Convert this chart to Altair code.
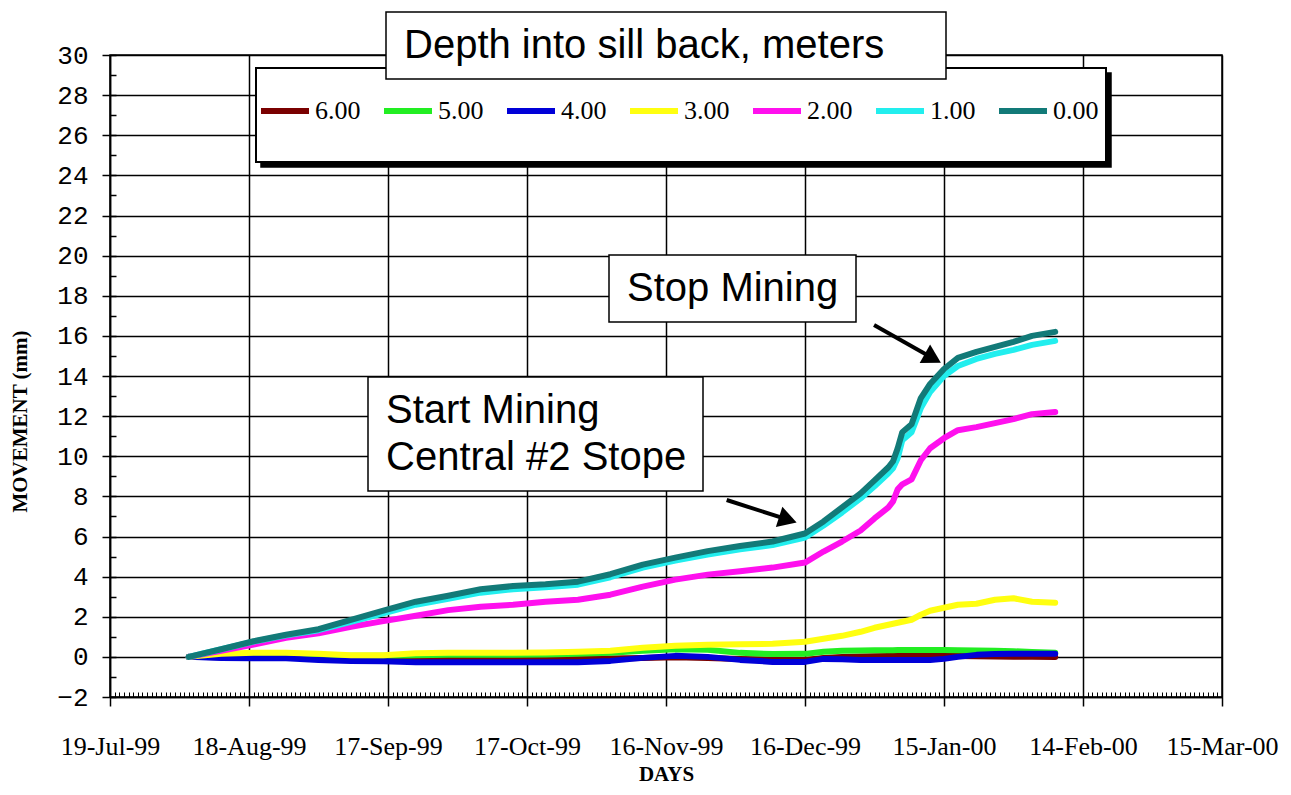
import altair as alt
import pandas as pd

# ---------------- data ----------------
START = "1999-07-19"
DATES = ["1999-08-05", "1999-08-12", "1999-08-19", "1999-08-26", "1999-09-02", "1999-09-09",
         "1999-09-16", "1999-09-23", "1999-09-30", "1999-10-07", "1999-10-14", "1999-10-21",
         "1999-10-28", "1999-11-04", "1999-11-11", "1999-11-18", "1999-11-25", "1999-12-02",
         "1999-12-09", "1999-12-16", "1999-12-20", "1999-12-24", "1999-12-28", "1999-12-31",
         "2000-01-03", "2000-01-04", "2000-01-05", "2000-01-06", "2000-01-08", "2000-01-10",
         "2000-01-12", "2000-01-15", "2000-01-18", "2000-01-22", "2000-01-26", "2000-01-30",
         "2000-02-03", "2000-02-08"]

D600 = [0, -0.02, -0.03, -0.04, -0.05, -0.06, -0.06, -0.05, -0.04, -0.03, -0.02, -0.03, -0.05,
        -0.08, -0.05, -0.02, -0.05, -0.1, -0.15, -0.15, -0.05, 0, 0.02, 0.03, 0.04, 0.04, 0.04,
        0.04, 0.04, 0.04, 0.04, 0.04, 0.04, 0.03, 0.02, 0.01, 0, 0]
D500 = [0, 0, 0.02, 0.02, 0.03, 0.05, 0.05, 0.08, 0.1, 0.1, 0.1, 0.12, 0.15, 0.2, 0.3, 0.38,
        0.35, 0.2, 0.14, 0.15, 0.26, 0.3, 0.32, 0.33, 0.33, 0.33, 0.34, 0.34, 0.34, 0.34, 0.34,
        0.34, 0.33, 0.32, 0.3, 0.28, 0.24, 0.2]
D400 = [0, -0.05, -0.07, -0.07, -0.15, -0.2, -0.22, -0.27, -0.27, -0.27, -0.27, -0.27, -0.27,
        -0.2, -0.05, 0.05, 0.0, -0.15, -0.25, -0.25, -0.1, -0.12, -0.15, -0.15, -0.15, -0.15,
        -0.15, -0.15, -0.15, -0.15, -0.15, -0.1, 0.0, 0.1, 0.14, 0.16, 0.16, 0.16]
D300 = [0, 0.15, 0.2, 0.2, 0.15, 0.08, 0.08, 0.18, 0.2, 0.2, 0.2, 0.22, 0.25, 0.3, 0.45, 0.55,
        0.6, 0.63, 0.65, 0.75, 0.9, 1.05, 1.25, 1.45, 1.6, 1.65, 1.7, 1.75, 1.85, 2.1, 2.3, 2.45,
        2.6, 2.65, 2.85, 2.92, 2.75, 2.7]
D200 = [0, 0.3, 0.62, 0.95, 1.18, 1.5, 1.78, 2.05, 2.33, 2.5, 2.6, 2.75, 2.85, 3.1, 3.5, 3.85,
        4.1, 4.27, 4.45, 4.7, 5.25, 5.75, 6.3, 6.9, 7.45, 7.75, 8.35, 8.6, 8.85, 9.8, 10.4, 10.9,
        11.3, 11.45, 11.65, 11.85, 12.1, 12.2]
D100 = [0, 0.38, 0.76, 1.07, 1.33, 1.75, 2.17, 2.6, 2.9, 3.2, 3.37, 3.47, 3.6, 3.97, 4.45, 4.8,
        5.1, 5.36, 5.57, 5.95, 6.55, 7.2, 7.9, 8.5, 9.15, 9.4, 9.9, 10.8, 11.2, 12.4, 13.2, 14.0,
        14.5, 14.85, 15.1, 15.3, 15.55, 15.75]
D000 = [0, 0.38, 0.78, 1.1, 1.38, 1.85, 2.3, 2.75, 3.05, 3.37, 3.53, 3.62, 3.75, 4.12, 4.6, 4.95,
        5.27, 5.53, 5.75, 6.15, 6.75, 7.45, 8.15, 8.8, 9.45, 9.75, 10.4, 11.2, 11.6, 12.9, 13.6,
        14.35, 14.9, 15.2, 15.45, 15.7, 16.0, 16.2]

SERIES = ["6.00", "5.00", "4.00", "3.00", "2.00", "1.00", "0.00"]
COLORS = ["#7a0000", "#22ee22", "#0000d8", "#ffff10", "#ff10ee", "#22eeee", "#127a78"]

X_TICK_LABELS = ["19-Jul-99", "18-Aug-99", "17-Sep-99", "17-Oct-99", "16-Nov-99",
                 "16-Dec-99", "15-Jan-00", "14-Feb-00", "15-Mar-00"]
X_TICK_DAYS = [0, 30, 60, 90, 120, 150, 180, 210, 240]
Y_TICKS = list(range(-2, 31, 2))

# annotation arrows (day offset, mm)
STOP_ARROW_X = [164.9, 177.6]
STOP_ARROW_Y = [16.54, 14.88]
START_ARROW_X = [133.1, 146.3]
START_ARROW_Y = [7.82, 6.84]

# ---------------- build table ----------------
day0 = pd.Timestamp(START)
days = [(pd.Timestamp(d) - day0).days for d in DATES]
rows = []
for name, vals in zip(SERIES, [D600, D500, D400, D300, D200, D100, D000]):
    for d, v in zip(days, vals):
        rows.append({"day": d, "mm": v, "depth": name})
df = pd.DataFrame(rows)

W, H = 1112, 642
xscale = alt.Scale(domain=[0, 240], nice=False, zero=False)
yscale = alt.Scale(domain=[-2, 30], nice=False, zero=False)

label_arr = "[" + ",".join("'%s'" % s for s in X_TICK_LABELS) + "]"

main_x = alt.Axis(values=X_TICK_DAYS, labelExpr=label_arr + "[round(datum.value/30)]",
                  labelFont="Liberation Serif", labelFontSize=26, labelColor="black",
                  labelFlush=False, labelOverlap=False, labelPadding=27,
                  tickSize=9, tickWidth=1.5, tickColor="black",
                  domainColor="black", domainWidth=1.5,
                  grid=True, gridColor="black", gridWidth=1.5, gridOpacity=1,
                  title="DAYS", titleFont="Liberation Serif", titleFontSize=21,
                  titleFontWeight="bold", titleColor="black",
                  titleX=W / 2, titleY=77, titleAlign="center", titleBaseline="middle")
main_y = alt.Axis(values=Y_TICKS, labelFont="Liberation Mono", labelFontSize=26,
                  labelColor="black", labelPadding=14, labelFlush=False,
                  tickSize=8, tickWidth=1.5, tickColor="black",
                  domainColor="black", domainWidth=1.5,
                  grid=True, gridColor="black", gridWidth=1.5, gridOpacity=1,
                  title="MOVEMENT (mm)", titleFont="Liberation Serif", titleFontSize=21,
                  titleFontWeight="bold", titleColor="black", titleAngle=270,
                  titleX=-90, titleY=366, titleAlign="center", titleBaseline="middle")

lines = alt.Chart(df).mark_line(strokeWidth=6, strokeJoin="round", strokeCap="round").encode(
    x=alt.X("day:Q", scale=xscale, axis=main_x),
    y=alt.Y("mm:Q", scale=yscale, axis=main_y),
    color=alt.Color("depth:N", scale=alt.Scale(domain=SERIES, range=COLORS),
                    legend=alt.Legend(orient="none", legendX=148, legendY=29,
                                      direction="horizontal", columns=7, title=None,
                                      symbolType="stroke", symbolSize=2304,
                                      symbolStrokeWidth=6, labelFont="Liberation Serif",
                                      labelFontSize=26, labelColor="black", labelOffset=3,
                                      columnPadding=11, padding=0)),
)

minor_x = alt.Axis(values=list(range(0, 241)), orient="bottom", offset=-5, tickSize=5,
                   tickWidth=1, tickColor="black", labels=False, domain=False, grid=False,
                   title=None)
minor_y = alt.Axis(values=list(range(-2, 31)), orient="left", offset=-6, tickSize=6,
                   tickWidth=1.5, tickColor="black", labels=False, domain=False, grid=False,
                   title=None)
minor = alt.Chart(df).mark_point(opacity=0).encode(
    x=alt.X("day:Q", scale=xscale, axis=minor_x),
    y=alt.Y("mm:Q", scale=yscale, axis=minor_y),
)

one = pd.DataFrame({"k": [0]})


def box(x1, x2, y1, y2, fill="white", stroke="black", sw=1.5):
    return alt.Chart(one).mark_rect(fill=fill, stroke=stroke, strokeWidth=sw).encode(
        x=alt.value(x1), x2=alt.value(x2), y=alt.value(y1), y2=alt.value(y2))


def label(txt, x, y, size=40):
    return alt.Chart(one).mark_text(font="Liberation Sans", fontSize=size, color="black",
                                    align="left", baseline="alphabetic",
                                    lineHeight=47).encode(
        x=alt.value(x), y=alt.value(y), text=alt.value(txt))


legend_shadow = box(151, 1001, 18, 112, fill="black", stroke="black")
legend_box = box(146, 996, 13, 107, sw=2)
title_box = box(276, 836, -43, 24)
title_txt = label("Depth into sill back, meters", 294, 3)
stop_box = box(499, 746, 200, 267)
stop_txt = label("Stop Mining", 517, 246)
start_box = box(258, 593, 322, 436)
start_txt = label(["Start Mining", "Central #2 Stope"], 276, 368)


def arrow(xs, ys, ang):
    d = pd.DataFrame({"day": xs, "mm": ys})
    ln = alt.Chart(d).mark_line(color="black", strokeWidth=4).encode(
        x=alt.X("day:Q", scale=xscale, axis=None),
        y=alt.Y("mm:Q", scale=yscale, axis=None))
    hd = alt.Chart(d.tail(1)).mark_point(shape="triangle-right", filled=True, color="black",
                                         opacity=1, size=450, angle=ang).encode(
        x=alt.X("day:Q", scale=xscale, axis=None),
        y=alt.Y("mm:Q", scale=yscale, axis=None))
    return ln + hd


stop_arrow = arrow(STOP_ARROW_X, STOP_ARROW_Y, 29.5)
start_arrow = arrow(START_ARROW_X, START_ARROW_Y, 17.8)

chart = alt.layer(
    lines, minor, stop_arrow, start_arrow,
    start_box, start_txt, stop_box, stop_txt,
    legend_shadow, legend_box, title_box, title_txt,
).resolve_axis(x="independent", y="independent").properties(
    width=W, height=H,
    autosize=alt.AutoSizeParams(type="none"),
    padding={"left": 102, "top": 47, "right": 60, "bottom": 90},
    background="white",
).configure_view(stroke="black", strokeWidth=1.5)

chart.save("out.html", embed_options={"renderer": "svg", "actions": False})
